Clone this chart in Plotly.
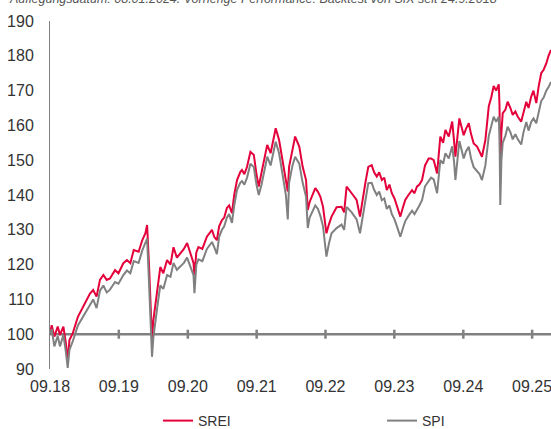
import plotly.graph_objects as go

dates = [
    "2018-09-24", "2018-10-03", "2018-10-17", "2018-11-04", "2018-11-16", "2018-12-04",
    "2018-12-17", "2018-12-27", "2019-01-05", "2019-01-23", "2019-02-19", "2019-03-18",
    "2019-04-06", "2019-04-24", "2019-05-11", "2019-05-29", "2019-06-16", "2019-07-04",
    "2019-07-22", "2019-08-08", "2019-09-04", "2019-09-22", "2019-10-18", "2019-11-06",
    "2019-11-24", "2019-12-12", "2020-01-07", "2020-01-26", "2020-02-12", "2020-02-21",
    "2020-03-02", "2020-03-12", "2020-03-18", "2020-03-25", "2020-04-06", "2020-04-18",
    "2020-05-01", "2020-05-17", "2020-06-06", "2020-06-24", "2020-07-10", "2020-07-28",
    "2020-08-16", "2020-09-03", "2020-09-20", "2020-10-08", "2020-10-24", "2020-10-29",
    "2020-11-08", "2020-11-19", "2020-12-10", "2021-01-03", "2021-01-30", "2021-02-11",
    "2021-02-25", "2021-03-09", "2021-03-24", "2021-04-05", "2021-04-19", "2021-05-01",
    "2021-05-16", "2021-05-28", "2021-06-12", "2021-06-29", "2021-07-08", "2021-07-21",
    "2021-08-04", "2021-08-22", "2021-09-09", "2021-09-23", "2021-10-05", "2021-10-20",
    "2021-11-01", "2021-11-19", "2021-12-07", "2021-12-20", "2022-01-03", "2022-01-21",
    "2022-02-08", "2022-02-26", "2022-03-08", "2022-03-15", "2022-04-02", "2022-04-16",
    "2022-05-08", "2022-05-26", "2022-06-13", "2022-06-22", "2022-07-02", "2022-07-19",
    "2022-08-01", "2022-08-15", "2022-08-28", "2022-09-11", "2022-09-29", "2022-10-12",
    "2022-10-26", "2022-11-22", "2022-12-18", "2023-01-01", "2023-01-14", "2023-02-10",
    "2023-03-08", "2023-03-26", "2023-04-13", "2023-04-25", "2023-05-09", "2023-05-27",
    "2023-06-09", "2023-06-23", "2023-07-06", "2023-07-20", "2023-08-02", "2023-08-15",
    "2023-08-29", "2023-09-11", "2023-09-25", "2023-10-08", "2023-10-26", "2023-11-09",
    "2023-11-21", "2023-12-08", "2023-12-27", "2024-01-09", "2024-01-22", "2024-02-04",
    "2024-02-18", "2024-03-05", "2024-03-24", "2024-04-06", "2024-04-20", "2024-05-08",
    "2024-05-25", "2024-06-09", "2024-06-21", "2024-07-09", "2024-07-27", "2024-08-06",
    "2024-08-13", "2024-09-03", "2024-09-26", "2024-10-08", "2024-10-23", "2024-11-04",
    "2024-11-18", "2024-12-06", "2024-12-19", "2025-01-01", "2025-01-19", "2025-02-06",
    "2025-02-19", "2025-03-04", "2025-03-17", "2025-03-31", "2025-04-04", "2025-04-08",
    "2025-04-14", "2025-04-21", "2025-05-05", "2025-05-17", "2025-06-01", "2025-06-13",
    "2025-06-27", "2025-07-10", "2025-07-28", "2025-08-09", "2025-08-24", "2025-09-05",
    "2025-09-19", "2025-10-01", "2025-10-16", "2025-10-28", "2025-11-11", "2025-11-24",
    "2025-12-08", "2025-12-20", "2026-01-02",
]

srei = [
    100.0, 102.6, 99.3, 102.2, 99.8, 102.2,
    97.5, 92.3, 98.3, 100.3, 105.0, 107.9,
    109.8, 111.7, 112.7, 110.8, 115.6, 117.0,
    115.6, 116.0, 118.4, 117.5, 120.4, 121.3,
    120.4, 124.2, 123.7, 127.0, 129.0, 131.4,
    120.0, 105.0, 98.3, 104.0, 109.0, 114.0,
    119.3, 117.5, 121.3, 120.0, 125.0, 122.0,
    123.3, 124.5, 126.2, 123.3, 120.5, 117.0,
    123.5, 125.0, 124.5, 128.0, 130.0, 128.0,
    127.0, 131.0, 132.8, 133.5, 136.3, 137.0,
    134.8, 140.0, 144.3, 146.6, 147.2, 146.0,
    148.1, 152.4, 151.5, 146.0, 142.4, 146.5,
    150.0, 154.4, 152.0, 155.5, 159.2, 155.8,
    150.0, 144.3, 141.0, 148.1, 153.0, 156.8,
    153.9, 148.1, 144.3, 135.7, 138.0, 140.5,
    142.0, 140.9, 139.5, 136.6, 129.0, 131.5,
    133.8, 136.5, 136.6, 135.0, 142.4, 140.5,
    138.6, 133.8, 140.5, 144.0, 148.1, 148.6,
    146.5, 145.3, 146.5, 144.3, 145.0, 141.4,
    143.0, 140.5, 139.0, 136.6, 133.8, 136.5,
    138.6, 140.0, 141.4, 140.5, 142.4, 143.0,
    144.3, 148.5, 150.5, 150.5, 150.0, 146.2,
    156.8, 155.0, 158.7, 156.8, 161.1, 155.5,
    151.0, 162.0, 157.2, 159.0, 160.6, 157.5,
    154.8, 153.9, 152.5, 151.0, 155.8, 165.5,
    168.0, 171.3, 170.0, 171.8, 165.5, 144.3,
    158.0, 163.5, 164.5, 166.8, 165.0, 163.0,
    164.0, 162.5, 161.1, 164.0, 166.8, 165.0,
    168.3, 170.0, 166.4, 171.0, 175.0, 176.0,
    177.8, 180.0, 181.7,
]

spi = [
    100.0, 101.5, 96.5, 99.5, 96.5, 99.8,
    95.0, 90.3, 95.5, 98.0, 102.5, 105.0,
    107.0, 108.8, 110.0, 107.5, 112.5, 114.0,
    112.0, 112.8, 115.0, 114.5, 117.0, 118.3,
    117.5, 121.0, 120.5, 124.0, 126.0, 127.5,
    115.0, 100.0, 93.5, 99.0, 104.5, 109.0,
    114.0, 113.0, 117.0, 116.5, 120.5, 118.5,
    119.5, 120.5, 122.0, 119.5, 117.0, 111.8,
    120.0, 121.5, 121.0, 124.5, 126.5, 125.0,
    123.0, 128.0, 130.0, 131.0, 133.5, 134.5,
    132.0, 137.0, 141.5, 143.5, 144.0, 143.0,
    145.0, 149.0, 148.0, 143.0, 140.0, 143.0,
    146.5, 151.0, 148.5, 152.0, 155.3, 152.0,
    146.0, 140.0, 133.0, 143.5, 148.5, 151.0,
    149.0, 143.5, 139.5, 130.5, 133.5, 135.5,
    137.0, 136.0, 134.0, 131.0, 122.3, 126.0,
    129.0, 130.5, 131.5, 130.0, 136.6, 135.0,
    133.0, 129.0, 135.0, 139.0, 143.4, 143.5,
    141.5, 140.0, 141.0, 138.5, 139.0, 136.0,
    137.0, 134.5, 133.0, 131.0, 128.0, 130.5,
    132.5, 134.0, 135.5, 134.5, 136.0, 137.0,
    138.5, 142.5, 144.0, 145.0, 144.5, 140.5,
    150.0, 149.0, 152.0, 150.5, 154.0, 149.5,
    144.3, 155.5, 150.5, 152.5, 153.9, 150.5,
    148.0, 147.0, 146.0, 144.3, 148.5, 157.0,
    159.5, 162.5, 161.0, 162.5, 157.0, 137.1,
    150.0, 155.0, 157.0, 159.6, 158.0, 156.0,
    157.5, 156.0, 154.5, 158.0, 161.0, 158.5,
    161.0, 162.0, 160.6, 164.0, 167.0, 168.0,
    170.0, 171.0, 172.5,
]

tick_dates = ["2018-09-24", "2019-09-24", "2020-09-24", "2021-09-24",
              "2022-09-24", "2023-09-24", "2024-09-24", "2025-09-24"]
tick_labels = ["09.18", "09.19", "09.20", "09.21", "09.22", "09.23", "09.24", "09.25"]
y_ticks = [90, 100, 110, 120, 130, 140, 150, 160, 170, 180, 190]
baseline = 100
subtitle = "Auflegungsdatum: 08.01.2024. Vorherige Performance: Backtest von SIX seit 24.9.2018"

RED = "#E4003A"
GRAY = "#808080"
W, H = 551, 429
ML, MR, MT, MB = 50, 0, 21, 60
PW = W - ML - MR
PH = H - MT - MB

fig = go.Figure()
fig.add_trace(go.Scatter(x=dates, y=srei, mode="lines", name="SREI",
                         line=dict(color=RED, width=2), legend="legend"))
fig.add_trace(go.Scatter(x=dates, y=spi, mode="lines", name="SPI",
                         line=dict(color=GRAY, width=2), legend="legend2"))

# baseline at 100 with year ticks
fig.add_shape(type="line", xref="paper", x0=0, x1=1, yref="y", y0=baseline, y1=baseline,
              line=dict(color=GRAY, width=2.5), layer="below")
for td in tick_dates[1:]:
    fig.add_shape(type="line", xref="x", x0=td, x1=td, yref="y",
                  y0=baseline - 1.3, y1=baseline + 1.3,
                  line=dict(color=GRAY, width=2.5), layer="below")

fig.add_annotation(text=subtitle, xref="paper", yref="paper", x=(7 - ML) / PW, xanchor="left",
                   y=1 + (MT + 1) / PH, yanchor="middle", showarrow=False,
                   font=dict(size=12.5, color="#555555", family="Liberation Sans", style="italic"))

leg_common = dict(orientation="h", xref="container", yref="container",
                  xanchor="left", yanchor="middle", y=(H - 421) / H,
                  font=dict(size=14, color="#333333"), bgcolor="rgba(0,0,0,0)")

fig.update_layout(
    width=W, height=H,
    margin=dict(l=ML, r=MR, t=MT, b=MB),
    paper_bgcolor="white", plot_bgcolor="white",
    font=dict(family="Liberation Sans", size=16, color="#333333"),
    showlegend=True,
    legend=dict(x=158 / W, **leg_common),
    legend2=dict(x=382 / W, **leg_common),
    xaxis=dict(range=["2018-09-24", "2026-01-02"], tickvals=tick_dates, ticktext=tick_labels,
               showgrid=False, zeroline=False, showline=False, ticks="",
               ticklabelstandoff=6, tickfont=dict(size=16), ticklabeloverflow="allow"),
    yaxis=dict(range=[90, 190], tickvals=y_ticks, showgrid=False, zeroline=False,
               showline=True, linecolor=GRAY, linewidth=1, ticks="",
               ticklabelstandoff=12, tickfont=dict(size=16)),
)

fig.write_html("out.html", config={"displayModeBar": False},
               post_script="document.body.style.margin='0';")
